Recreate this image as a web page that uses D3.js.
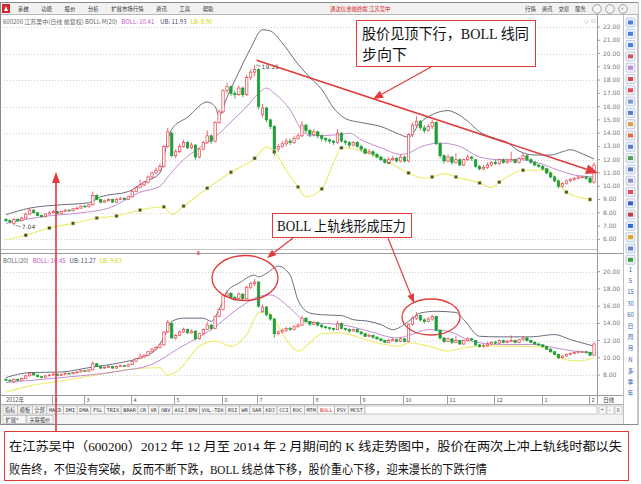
<!DOCTYPE html>
<html><head><meta charset="utf-8">
<script src="https://cdn.jsdelivr.net/npm/d3@7"></script>
<style>body{margin:0;background:#fff}svg{display:block}</style>
</head><body>
<svg id="c" width="641" height="484"></svg>
<script>
// ---------- DATA ----------
// daily candles [open, close, high, low]
const candles = [
[7.5,7.4,7.6,7.3],[7.4,7.3,7.5,7.2],[7.2,7.5,7.6,7.04],[7.5,7.4,7.6,7.3],[7.4,7.6,7.7,7.35],
[7.6,7.9,8.0,7.55],[7.9,8.2,8.35,7.85],[8.2,8.0,8.25,7.95],[8.0,7.8,8.05,7.75],[7.8,7.7,7.85,7.6],
[7.7,7.9,7.95,7.65],[7.9,8.0,8.1,7.85],[8.0,8.1,8.2,7.95],[8.1,7.95,8.15,7.9],[7.95,8.1,8.15,7.9],
[8.1,8.2,8.3,8.05],[8.2,8.15,8.25,8.1],[8.15,8.3,8.35,8.1],[8.3,8.35,8.45,8.25],[8.35,8.5,8.55,8.3],
[8.5,8.45,8.6,8.4],[8.45,8.6,8.65,8.4],[8.6,9.3,9.6,8.55],[9.3,9.0,9.4,8.95],[9.0,8.8,9.05,8.7],
[8.8,8.9,9.0,8.75],[8.9,9.0,9.1,8.85],[9.0,8.8,9.05,8.75],[8.8,9.0,9.1,8.75],[9.0,9.1,9.2,8.95],
[9.1,9.0,9.15,8.95],[9.0,9.2,9.3,8.95],[9.2,9.6,9.7,9.15],[9.6,9.9,10.0,9.55],[9.9,10.1,10.5,9.85],
[10.1,10.3,10.4,10.0],[10.3,10.7,10.8,10.2],[10.7,11.0,11.1,10.6],[11.0,11.2,11.4,10.9],[11.2,11.5,11.7,11.1],
[11.5,13.0,13.1,11.4],[13.0,14.1,14.4,12.9],[14.0,12.3,14.1,12.2],[12.3,12.6,12.8,12.1],[12.6,13.0,13.2,12.5],
[13.0,13.3,13.5,12.9],[13.3,12.9,13.4,12.8],[12.9,13.1,13.3,12.8],[13.1,12.2,13.2,12.0],[12.2,12.8,12.9,12.1],
[12.8,13.3,13.4,12.7],[13.3,13.8,14.2,13.2],[13.8,13.4,13.9,13.2],[13.4,14.8,14.9,13.3],[14.8,15.6,15.8,14.7],
[15.6,17.2,17.3,15.5],[17.2,17.5,17.8,17.0],[17.5,17.0,17.6,16.8],[17.0,16.9,17.2,16.6],[16.9,17.4,17.6,16.8],
[17.4,16.9,17.5,16.7],[16.9,18.2,18.4,16.8],[18.2,18.6,18.8,18.0],[18.6,18.8,19.15,18.3],[18.8,16.0,18.9,15.8],
[15.4,15.9,16.2,15.2],[15.9,15.0,16.0,14.8],[15.0,14.5,15.1,14.3],[14.5,12.8,14.6,12.3],[12.8,13.0,13.2,12.6],
[13.0,13.2,13.4,12.9],[13.2,13.4,13.6,13.0],[13.4,13.3,13.6,13.1],[13.3,13.6,13.8,13.2],[13.6,13.8,14.0,13.5],
[13.8,14.6,14.9,13.7],[14.6,14.2,14.7,14.0],[14.2,13.9,14.3,13.7],[13.9,14.1,14.3,13.8],[14.1,13.8,14.2,13.6],
[13.8,13.6,13.9,13.4],[13.6,13.5,13.7,13.3],[13.5,13.4,13.6,13.2],[13.4,13.3,13.5,13.1],[13.3,14.0,14.3,13.2],
[14.0,13.4,14.1,13.3],[13.4,13.3,13.5,13.1],[13.3,13.1,13.4,12.9],[13.1,13.3,13.4,13.0],[13.3,13.0,13.4,12.9],
[13.0,12.8,13.1,12.6],[12.8,12.5,12.9,12.4],[12.5,12.6,12.8,12.4],[12.6,12.4,12.7,12.2],[12.4,12.2,12.5,12.1],
[12.2,12.0,12.3,11.9],[12.0,11.8,12.1,11.7],[11.8,12.0,12.2,11.7],[12.0,12.1,12.3,11.9],[12.1,11.9,12.2,11.8],
[11.9,12.2,12.4,11.8],[12.2,11.9,12.3,11.8],[11.9,13.9,14.0,11.8],[13.9,14.6,14.8,13.7],[14.6,14.9,15.3,14.4],
[14.9,14.4,15.0,14.2],[14.4,14.2,14.6,14.0],[14.2,14.5,14.7,14.1],[14.5,14.8,15.0,14.3],[14.8,13.2,14.9,13.1],
[13.2,12.3,13.3,12.1],[12.3,11.9,12.4,11.7],[11.9,12.2,12.4,11.8],[12.2,11.8,12.3,11.6],[11.8,12.0,12.5,11.7],
[12.0,11.6,12.1,11.5],[11.6,12.0,12.1,11.5],[12.0,12.2,12.4,11.9],[12.2,12.1,12.3,11.9],[12.0,11.5,12.0,11.4],
[11.5,11.3,11.6,11.2],[11.3,11.4,11.6,11.2],[11.4,11.6,11.8,11.3],[11.6,11.8,11.9,11.5],[11.8,11.7,12.0,11.6],
[11.7,12.0,12.1,11.6],[12.0,11.8,12.1,11.7],[11.8,11.9,12.1,11.7],[11.9,12.0,12.6,11.8],[12.0,11.8,12.1,11.7],
[11.8,12.1,12.2,11.7],[12.1,12.3,12.5,12.0],[12.3,12.0,12.4,11.9],[12.0,11.8,12.1,11.7],[11.8,11.6,11.9,11.5],
[11.6,11.5,11.7,11.4],[11.5,11.3,11.6,11.2],[11.3,11.0,11.4,10.9],[11.0,10.7,11.1,10.6],[10.7,10.4,10.8,10.3],
[10.4,10.0,10.5,9.85],[10.0,10.2,10.3,9.9],[10.2,10.4,10.5,10.1],[10.4,10.5,10.6,10.3],[10.5,10.6,10.7,10.4],
[10.6,10.7,10.8,10.5],[10.7,10.7,10.8,10.6],[10.7,10.6,10.8,10.5],[10.6,10.3,10.7,10.2],[10.3,11.6,11.8,10.2]
];
// BOLL-M (main panel) [candle index, value]
const ubTop = [[0,7.85],[6,8.35],[14,8.6],[21,8.75],[24,9.2],[31,9.6],[35,10.3],[39,11.0],[41,13.5],[42,14.3],[46,15.2],[51,16.35],[53,16.0],[54,15.3],[56,16.7],[59,18.6],[62,20.4],[65,21.8],[67,21.7],[70,20.8],[74,19.2],[77,18.2],[80,17.3],[83,15.9],[86,15.1],[90,14.8],[95,14.5],[99,14.0],[102,13.7],[105,14.8],[108,15.4],[112,15.7],[114,15.5],[117,14.9],[120,14.1],[124,13.6],[127,13.3],[130,12.65],[134,12.35],[138,12.35],[141,12.6],[143,12.75],[146,12.45],[149,12.05]];
const mbTop = [[0,7.2],[9,7.7],[19,8.0],[26,8.35],[34,9.55],[39,10.0],[41,10.7],[45,12.0],[49,12.9],[53,13.7],[57,14.85],[61,16.0],[64,17.0],[66,17.4],[68,17.0],[72,15.75],[75,14.2],[77,13.8],[85,13.9],[87,14.0],[90,13.5],[95,12.9],[100,12.4],[102,12.5],[105,12.95],[110,13.25],[115,13.0],[120,12.2],[125,12.0],[130,12.0],[135,11.75],[140,11.2],[144,10.85],[149,10.7]];
// [index, value, hasDot]
const lbTop = [[0,5.95,0],[5,6.3,1],[11,6.85,1],[17,7.2,1],[23,7.6,1],[28,7.75,1],[34,8.2,1],[40,8.45,1],[42,7.85,0],[45,8.5,1],[51,9.85,1],[57,11.05,1],[63,12.1,1],[66,12.95,0],[68,12.6,1],[71,11.2,0],[74,9.95,1],[76,9.2,0],[80,9.8,1],[83,11.75,0],[85,12.9,1],[91,12.6,1],[97,11.8,1],[102,11.0,1],[106,10.6,0],[108,10.7,1],[111,10.95,0],[114,10.7,1],[120,10.25,1],[123,9.9,0],[125,10.3,1],[131,11.2,1],[137,11.2,1],[142,9.55,1],[148,9.0,1]];
// BOLL(20) (lower panel)
const ubLow = [[0,7.7],[6,8.28],[14,8.35],[21,8.85],[29,9.43],[34,10.0],[38,10.97],[40,12.35],[42,14.23],[45,14.6],[50,14.6],[52,14.23],[54,15.6],[56,17.7],[59,18.66],[63,19.6],[64,19.4],[66,19.8],[69,20.65],[72,19.6],[74,16.7],[77,15.2],[80,15.0],[85,14.9],[88,14.43],[92,14.23],[95,13.85],[98,13.27],[102,14.23],[105,15.2],[109,15.4],[114,15.27],[116,14.43],[120,12.5],[125,12.43],[133,12.43],[139,12.7],[143,12.12],[149,11.35]];
const mbLow = [[0,7.13],[14,7.7],[29,8.47],[37,9.24],[44,11.16],[52,13.27],[59,15.77],[64,17.1],[67,17.3],[72,15.77],[76,14.23],[80,14.0],[85,13.85],[92,13.08],[99,12.31],[102,12.58],[107,13.27],[112,13.08],[118,11.93],[125,11.55],[133,11.55],[139,11.16],[144,10.77],[149,10.58]];
const lbLow = [[0,6.0],[6,6.74],[14,7.31],[24,8.08],[31,8.66],[37,8.85],[39,8.85],[41,7.97],[44,8.66],[49,11.35],[53,11.93],[57,11.35],[61,12.7],[64,15.2],[66,15.38],[68,14.43],[71,12.12],[74,10.77],[77,11.74],[80,12.8],[85,12.89],[91,12.12],[96,11.55],[100,11.35],[102,11.74],[107,11.35],[112,10.77],[116,11.16],[120,11.35],[130,11.35],[137,11.16],[140,10.0],[145,9.62],[149,10.0]];
const topTicks = [22,21,20,19,18,17,16,15,14,13,12,11,10,9,8,7,6];
const topGrid = [22,20,18,16,14,12,10,8,6];
const lowTicks = [20,18,16,14,12,10,8];
const months = [[0,"2012年"],[12,"2"],[20,"3"],[32,"4"],[43,"5"],[55,"6"],[64,"7"],[78,"8"],[90,"9"],[101,"10"],[112,"11"],[124,"12"],[136,"1"],[148,"2"]];
const menuItems = ["系统","功能","报价","分析","扩展市场行情","资讯","工具","帮助"];
const rightBtns = ["行情","资讯","交易","服务"];
const tabs = ["指标","模板","全部","MACD","DMI","DMA","FSL","TRIX","BRAR","CR","VR","OBV","ASI","EMV","VOL-TDX","RSI","WR","SAR","KDJ","CCI","ROC","MTM","BOLL","PSY","MCST"];
const sideNums = ["1","5","15","30","60","日","周","月","N","多","季","年"];
const iconColors = ["#4a7fd6","#4a7fd6","#4a7fd6","#d05a5a","#c088d8","#d84848","#e04a58","#7a9ad0","#5a7cc4","#e0a040","#e07040","#5a7cc4","#50a050","#5a7cc4","#9090c0","#e05050","#3a62c4","#c04040","#2f6fd6","#e0a020","#6a80c0","#40a040"];
const note1 = ["股价见顶下行，BOLL 线同","步向下"];
const note2 = "BOLL 上轨线形成压力";
const caption = ["在江苏吴中（600200）2012 年 12 月至 2014 年 2 月期间的 K 线走势图中，股价在两次上冲上轨线时都以失",
                 "败告终，不但没有突破，反而不断下跌，BOLL 线总体下移，股价重心下移，迎来漫长的下跌行情"];

// ---------- SCALES ----------
const svg = d3.select("#c");
const CJK = "'Noto Sans CJK SC','Noto Sans',sans-serif";
const x = d3.scaleBand().domain(d3.range(candles.length)).range([4,596]).paddingInner(0.4).paddingOuter(0.2);
const xc = i => x(0) + i * x.step() + x.bandwidth()/2;
const yT = d3.scaleLinear().domain([6,22]).range([239.3,27]);
const yL = d3.scaleLinear().domain([8,20]).range([375,271.7]);
const RED="#e8414f", GREEN="#1f9e35", ANN="#e23a3a";

// ---------- WINDOW CHROME ----------
svg.append("rect").attr("width",641).attr("height",484).attr("fill","#fff");
svg.append("rect").attr("x",0.5).attr("y",2.5).attr("width",637.5).attr("height",422).attr("fill","#fff").attr("stroke","#8a8a8a");
svg.append("rect").attr("x",1).attr("y",3).attr("width",637).attr("height",11).attr("fill","#f1f1f1");
svg.append("line").attr("x1",1).attr("x2",638).attr("y1",14.5).attr("y2",14.5).attr("stroke","#b8b8b8");
svg.append("rect").attr("x",2).attr("y",4).attr("width",8).attr("height",9).attr("fill","#d6262c");
svg.append("path").attr("d","M4,11 L6,6 L8,11 Z").attr("fill","#fff");
let mx = 18;
menuItems.forEach(t=>{
  const tx = svg.append("text").attr("x",mx).attr("y",11).attr("font-size",5.4).attr("font-family",CJK).attr("fill","#333").text(t);
  mx += tx.node().getComputedTextLength() + 12.5;
});
svg.append("text").attr("x",330).attr("y",11).attr("font-size",5.4).attr("font-family",CJK).attr("fill","#d42020").text("通达信金融终端   江苏吴中");
rightBtns.forEach((t,k)=>{
  svg.append("text").attr("x",525+k*16.7).attr("y",11).attr("font-size",5.4).attr("font-family",CJK).attr("fill","#333").text(t);
});
[597,610,623].forEach(cx=>svg.append("circle").attr("cx",cx).attr("cy",9).attr("r",4.3).attr("fill","#f6f6f6").attr("stroke","#8a8a8a").attr("stroke-width",0.8));
svg.append("text").attr("x",620.5).attr("y",11).attr("font-size",6).attr("fill","#666").text("×");

// header row
const h1 = svg.append("text").attr("x",3).attr("y",23.5).attr("font-size",6).attr("font-family",CJK);
h1.append("tspan").attr("fill","#666").text("600200 江苏吴中(日线 前复权) BOLL-M(20)");
h1.append("tspan").attr("dx",4).attr("fill","#c05ac0").text("BOLL: 10.41");
h1.append("tspan").attr("dx",6).attr("fill","#4a4a6a").text("UB: 11.93");
h1.append("tspan").attr("dx",4).attr("fill","#d6d600").text("LB: 8.90");
svg.append("text").attr("x",584).attr("y",23).attr("font-size",6).attr("fill","#aaa").text("◇ ⊡");

// axis separators
svg.append("line").attr("x1",597.5).attr("x2",597.5).attr("y1",15).attr("y2",404).attr("stroke","#9a9a9a");
svg.append("line").attr("x1",623.5).attr("x2",623.5).attr("y1",15).attr("y2",424).attr("stroke","#c0c0c0");
svg.append("line").attr("x1",1).attr("x2",597).attr("y1",249.5).attr("y2",249.5).attr("stroke","#c4c4c4");
svg.append("line").attr("x1",1).attr("x2",623).attr("y1",253.5).attr("y2",253.5).attr("stroke","#9a9a9a");

// ---------- GRID + AXES ----------
const gTop = svg.append("g");
gTop.selectAll(".g").data(topGrid).join("line").attr("x1",4).attr("x2",597).attr("y1",d=>Math.round(yT(d))+0.5).attr("y2",d=>Math.round(yT(d))+0.5).attr("stroke","#cfcfcf").attr("stroke-dasharray","1,2");
gTop.selectAll(".t").data(topTicks).join("text").attr("x",603).attr("y",d=>yT(d)+2).attr("font-size",6).attr("font-family","'DejaVu Sans',sans-serif").attr("fill","#7a7a7a").text(d=>d.toFixed(2));
gTop.selectAll(".k").data(topTicks).join("line").attr("x1",597).attr("x2",600).attr("y1",d=>yT(d)).attr("y2",d=>yT(d)).attr("stroke","#9a9a9a");
const gLow = svg.append("g");
gLow.selectAll(".g").data(lowTicks).join("line").attr("x1",4).attr("x2",597).attr("y1",d=>Math.round(yL(d))+0.5).attr("y2",d=>Math.round(yL(d))+0.5).attr("stroke","#cfcfcf").attr("stroke-dasharray","1,2");
gLow.selectAll(".t").data(lowTicks).join("text").attr("x",603).attr("y",d=>yL(d)+2).attr("font-size",6).attr("font-family","'DejaVu Sans',sans-serif").attr("fill","#7a7a7a").text(d=>d.toFixed(2));
gLow.selectAll(".k").data(lowTicks).join("line").attr("x1",597).attr("x2",600).attr("y1",d=>yL(d)).attr("y2",d=>yL(d)).attr("stroke","#9a9a9a");

// clip paths
const defs = svg.append("defs");
defs.append("clipPath").attr("id","cpT").append("rect").attr("x",2).attr("y",26).attr("width",595).attr("height",222);
defs.append("clipPath").attr("id","cpL").append("rect").attr("x",2).attr("y",264).attr("width",595).attr("height",131);

function drawPanel(g, y, ub, mb, lb, dots){
  const ln = d3.line().x(d=>xc(d[0])).y(d=>y(d[1])).curve(d3.curveMonotoneX);
  g.append("path").attr("d",ln(lb)).attr("fill","none").attr("stroke","#ecec6e").attr("stroke-width",1.1);
  g.append("path").attr("d",ln(mb)).attr("fill","none").attr("stroke","#c48bd2").attr("stroke-width",1);
  g.append("path").attr("d",ln(ub)).attr("fill","none").attr("stroke","#6c6c7e").attr("stroke-width",1);
  if(dots){
    g.selectAll(".dot").data(lb.filter(d=>d[2])).join("rect")
      .attr("x",d=>xc(d[0])-1.6).attr("y",d=>y(d[1])-1.6).attr("width",3.2).attr("height",3.2)
      .attr("fill","#4a4a36").attr("stroke","#cfcf70").attr("stroke-width",0.5);
  }
  const c = g.selectAll(".cd").data(candles).join("g");
  c.append("line").attr("x1",(d,i)=>xc(i)).attr("x2",(d,i)=>xc(i))
    .attr("y1",d=>y(d[2])).attr("y2",d=>y(d[3])).attr("stroke",d=>d[1]>=d[0]?RED:GREEN).attr("stroke-width",0.8);
  c.append("rect").attr("x",(d,i)=>x(i)).attr("width",x.bandwidth())
    .attr("y",d=>y(Math.max(d[0],d[1])))
    .attr("height",d=>Math.max(0.8,Math.abs(y(d[0])-y(d[1]))))
    .attr("fill",d=>d[1]>=d[0]?"#fff":GREEN)
    .attr("stroke",d=>d[1]>=d[0]?RED:GREEN).attr("stroke-width",0.7);
}
drawPanel(svg.append("g").attr("clip-path","url(#cpT)"), yT, ubTop, mbTop, lbTop, true);
drawPanel(svg.append("g").attr("clip-path","url(#cpL)"), yL, ubLow, mbLow, lbLow, false);

// high / low labels
const hiI = d3.maxIndex(candles,d=>d[2]), loI = d3.minIndex(candles,d=>d[3]);
const hi = candles[hiI][2], lo = candles[loI][3];
svg.append("line").attr("x1",xc(hiI)+1.5).attr("x2",xc(hiI)+6).attr("y1",yT(hi)).attr("y2",yT(hi)+1.5).attr("stroke","#555").attr("stroke-width",0.6);
svg.append("text").attr("x",xc(hiI)+7).attr("y",yT(hi)+4).attr("font-size",6).attr("fill","#444").attr("font-family","'DejaVu Sans',sans-serif").text(hi.toFixed(2));
svg.append("line").attr("x1",xc(loI)+1.5).attr("x2",xc(loI)+7).attr("y1",yT(lo)).attr("y2",yT(lo)+1).attr("stroke","#555").attr("stroke-width",0.6);
svg.append("text").attr("x",xc(loI)+8).attr("y",yT(lo)+3).attr("font-size",6).attr("fill","#444").attr("font-family","'DejaVu Sans',sans-serif").text(lo.toFixed(2));

// lower header
const h2 = svg.append("text").attr("x",3).attr("y",262.5).attr("font-size",6).attr("font-family",CJK);
h2.append("tspan").attr("fill","#666").text("BOLL(20)");
h2.append("tspan").attr("dx",4).attr("fill","#c05ac0").text("BOLL: 10.45");
h2.append("tspan").attr("dx",4).attr("fill","#4a4a6a").text("UB: 11.27");
h2.append("tspan").attr("dx",4).attr("fill","#d6d600").text("LB: 9.63");
svg.append("text").attr("x",197).attr("y",255).attr("font-size",6).attr("fill",ANN).attr("font-weight","bold").text("$");

// time axis
svg.append("line").attr("x1",1).attr("x2",623).attr("y1",395.5).attr("y2",395.5).attr("stroke","#9a9a9a");
svg.append("line").attr("x1",1).attr("x2",623).attr("y1",404.5).attr("y2",404.5).attr("stroke","#b0b0b0");
months.forEach(([i,t])=>{
  const px = Math.round(x(i))+0.5;
  if(i>0) svg.append("line").attr("x1",px).attr("x2",px).attr("y1",396).attr("y2",404).attr("stroke","#a0a0a0");
  svg.append("text").attr("x",(i>0?px:4)+2).attr("y",402).attr("font-size",5.6).attr("font-family",CJK).attr("fill","#555").text(t);
});
svg.append("text").attr("x",603).attr("y",402).attr("font-size",5.6).attr("font-family",CJK).attr("fill","#333").text("日线");

// tabs
svg.append("rect").attr("x",1).attr("y",405).attr("width",622).attr("height",19).attr("fill","#f3f3f3");
const tg = svg.append("g");
const tt = tabs.map(t=>tg.append("text").attr("y",411.8).attr("font-size",5.2).attr("font-family","'DejaVu Sans Mono',"+CJK).attr("fill",t==="BOLL"?"#e02020":"#333").text(t));
const tw = tt.map(s=>s.node().getComputedTextLength());
const pad = (362 - d3.sum(tw)) / tabs.length;
let tx0 = 3;
tt.forEach((s,k)=>{
  tg.insert("rect","text").attr("x",tx0).attr("y",406).attr("width",tw[k]+pad).attr("height",8).attr("fill",k===22?"#fff":"#f8f8f8").attr("stroke","#a8a8a8").attr("stroke-width",0.6);
  s.attr("x",tx0+pad/2);
  tx0 += tw[k]+pad;
});
svg.append("rect").attr("x",tx0).attr("y",406).attr("width",597-tx0).attr("height",8).attr("fill","#fff").attr("stroke","#a8a8a8").attr("stroke-width",0.6);
["+","-","0"].forEach((t,k)=>{
  svg.append("rect").attr("x",599+k*8).attr("y",406).attr("width",7).attr("height",8).attr("fill","#fafafa").attr("stroke","#a8a8a8").attr("stroke-width",0.5);
  svg.append("text").attr("x",600.8+k*8).attr("y",412.3).attr("font-size",5.5).attr("fill","#444").text(t);
});
[["扩展^",3,23],["关联报价",27,26]].forEach(([t,xx,w])=>{
  svg.append("rect").attr("x",xx).attr("y",415.5).attr("width",w).attr("height",8).attr("fill","#f8f8f8").attr("stroke","#a8a8a8").attr("stroke-width",0.6);
  svg.append("text").attr("x",xx+2.5).attr("y",421.8).attr("font-size",5.2).attr("font-family",CJK).attr("fill","#333").text(t);
});

// right toolbar
iconColors.forEach((c,k)=>{
  const yy = 18 + k*11.3;
  svg.append("rect").attr("x",626).attr("y",yy).attr("width",9).attr("height",9).attr("rx",1).attr("fill","#eef2fb").attr("stroke","#98acd4").attr("stroke-width",0.6);
  svg.append("rect").attr("x",628).attr("y",yy+2.5).attr("width",5).attr("height",4).attr("fill",c);
});
sideNums.forEach((t,k)=>{
  svg.append("text").attr("x",630.5).attr("y",272+k*11.2).attr("text-anchor","middle").attr("font-size",6).attr("font-family",CJK).attr("fill","#3a5fb0").text(t);
});

// ---------- ANNOTATIONS ----------
const ann = svg.append("g");
function arrow(x1,y1,x2,y2,len,wid,sw){
  const a = Math.atan2(y2-y1,x2-x1), bx = x2-len*Math.cos(a), by = y2-len*Math.sin(a);
  ann.append("line").attr("x1",x1).attr("y1",y1).attr("x2",bx).attr("y2",by).attr("stroke",ANN).attr("stroke-width",sw);
  const px = -Math.sin(a)*wid/2, py = Math.cos(a)*wid/2;
  ann.append("path").attr("d",`M${x2},${y2}L${bx+px},${by+py}L${bx-px},${by-py}Z`).attr("fill",ANN);
}
// trend line over the falling tops
arrow(xc(63)+2, yT(19.5), 598, yT(11.0), 12, 10, 1.6);
// box 1
ann.append("rect").attr("x",356.5).attr("y",20.5).attr("width",179).attr("height",46).attr("fill","#fff").attr("stroke",ANN).attr("stroke-width",1);
note1.forEach((t,k)=>{
  const s = ann.append("text").attr("x",362).attr("y",39+k*20.5).attr("font-size",15).attr("font-family","'Liberation Serif',"+CJK).attr("fill","#111").text(t);
  if(k===0) s.attr("textLength",167).attr("lengthAdjust","spacingAndGlyphs");
});
arrow(431,67,373,99,10,8,1.2);
// box 2
ann.append("rect").attr("x",272.5).attr("y",213.5).attr("width",139).attr("height",24).attr("fill","#fff").attr("stroke",ANN).attr("stroke-width",1);
ann.append("text").attr("x",277).attr("y",231).attr("font-size",14).attr("font-family","'Liberation Serif',"+CJK).attr("fill","#111").attr("textLength",129).attr("lengthAdjust","spacingAndGlyphs").text(note2);
arrow(293,238,267,258,9,7,1.2);
arrow(388,238,414,303,9,7,1.2);
ann.append("ellipse").attr("cx",245).attr("cy",278).attr("rx",33).attr("ry",22.5).attr("fill","none").attr("stroke",ANN).attr("stroke-width",1.3);
ann.append("ellipse").attr("cx",431).attr("cy",317).attr("rx",29).attr("ry",18).attr("fill","none").attr("stroke",ANN).attr("stroke-width",1.3);
// vertical arrow from caption
arrow(56,431,56,172,11,8,1.6);
// caption box
ann.append("rect").attr("x",4.5).attr("y",431.5).attr("width",624).attr("height",49).attr("fill","#fff").attr("stroke",ANN).attr("stroke-width",1);
ann.append("text").attr("x",9).attr("y",451).attr("font-size",12.5).attr("font-family","'Liberation Serif',"+CJK).attr("fill","#111").attr("textLength",613).attr("lengthAdjust","spacingAndGlyphs").text(caption[0]);
ann.append("text").attr("x",9).attr("y",474).attr("font-size",12.5).attr("font-family","'Liberation Serif',"+CJK).attr("fill","#111").attr("textLength",478).attr("lengthAdjust","spacingAndGlyphs").text(caption[1]);
</script>
</body></html>
